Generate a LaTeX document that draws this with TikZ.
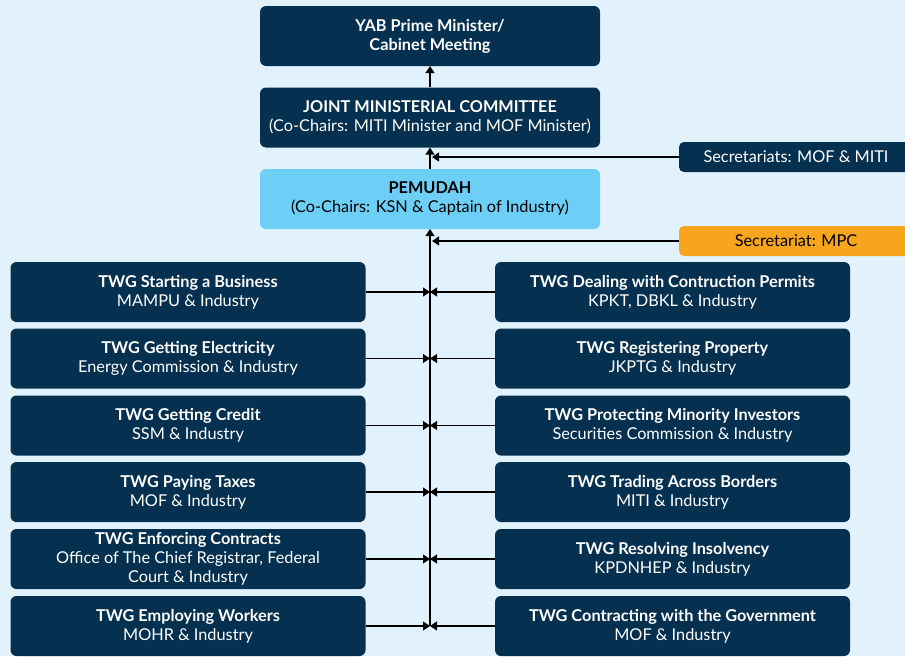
\documentclass[tikz,border=0pt]{standalone}
\usepackage{fontspec}
\setmainfont{Lato}
\usetikzlibrary{arrows.meta}
\definecolor{bg}{HTML}{E1F2FC}
\definecolor{navy}{HTML}{06304F}
\definecolor{sky}{HTML}{6DCFF6}
\definecolor{amber}{HTML}{F7A51C}
\begin{document}
\begin{tikzpicture}[x=1pt,y=-1pt,
  box/.style={rectangle, rounded corners=6pt, fill=navy, text=white, align=center,
    minimum height=60pt, inner sep=1pt, font=\fontsize{16.3}{19}\selectfont},
  topbox/.style={box, minimum width=340pt},
  twg/.style={box, minimum width=355pt},
  secbox/.style={rectangle, rounded corners=5pt, minimum width=234pt, minimum height=30pt,
    inner sep=1pt, font=\fontsize{16.3}{18}\selectfont},
  conn/.style={line width=1.1pt, black},
  tip/.style={-{Triangle[width=9pt,length=7pt]}}
]
\fill[bg] (0,0) rectangle (905,656);
\useasboundingbox (0,0) rectangle (905,656);

\node[topbox] (yab) at (430,36) {\textbf{YAB Prime Minister/}\\\textbf{Cabinet Meeting}};
\node[topbox] (jmc) at (430,117.5) {\textbf{JOINT MINISTERIAL COMMITTEE}\\(Co-Chairs: MITI Minister and MOF Minister)};
\node[topbox, fill=sky, text=black] (pem) at (430,199) {\textbf{PEMUDAH}\\(Co-Chairs: KSN \& Captain of Industry)};

\node[secbox, fill=navy, text=white] (sec1) at (796,157) {Secretariats: MOF \& MITI};
\node[secbox, fill=amber, text=black] (sec2) at (796,241) {Secretariat: MPC};

% left column
\node[twg] (l1) at (188,292) {\textbf{TWG Starting a Business}\\MAMPU \& Industry};
\node[twg] (l2) at (188,358.5) {\textbf{TWG Getting Electricity}\\Energy Commission \& Industry};
\node[twg] (l3) at (188,425.5) {\textbf{TWG Getting Credit}\\SSM \& Industry};
\node[twg] (l4) at (188,492) {\textbf{TWG Paying Taxes}\\MOF \& Industry};
\node[twg] (l5) at (188,559) {\textbf{TWG Enforcing Contracts}\\Office of The Chief Registrar, Federal\\Court \& Industry};
\node[twg] (l6) at (188,626) {\textbf{TWG Employing Workers}\\MOHR \& Industry};
% right column
\node[twg] (r1) at (672.5,292) {\textbf{TWG Dealing with Contruction Permits}\\KPKT, DBKL \& Industry};
\node[twg] (r2) at (672.5,358.5) {\textbf{TWG Registering Property}\\JKPTG \& Industry};
\node[twg] (r3) at (672.5,425.5) {\textbf{TWG Protecting Minority Investors}\\Securities Commission \& Industry};
\node[twg] (r4) at (672.5,492) {\textbf{TWG Trading Across Borders}\\MITI \& Industry};
\node[twg] (r5) at (672.5,559) {\textbf{TWG Resolving Insolvency}\\KPDNHEP \& Industry};
\node[twg] (r6) at (672.5,626) {\textbf{TWG Contracting with the Government}\\MOF \& Industry};

% spine
\coordinate (spinetop) at (430,229);
\coordinate (spinebot) at (430,626);
\foreach \i/\y in {1/292,2/358.5,3/425.5,4/492,5/559,6/626}{
  \coordinate (j\i) at (430,\y);
}
\coordinate (s1) at (432,157);
\coordinate (s2) at (432,241);

\draw[conn, tip] (spinebot) -- (spinetop);
\draw[conn, tip] (pem.north) -- (jmc.south);
\draw[conn, tip] (jmc.north) -- (yab.south);
\draw[conn, tip] (sec1.west) -- (s1);
\draw[conn, tip] (sec2.west) -- (s2);
\foreach \i in {1,...,6}{
  \draw[conn, tip] (l\i.east) -- (j\i);
  \draw[conn, tip] (r\i.west) -- (j\i);
}
\end{tikzpicture}
\end{document}
